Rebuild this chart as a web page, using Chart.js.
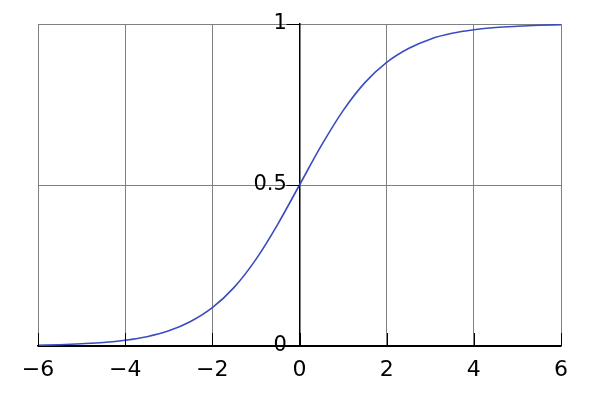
<!DOCTYPE html>
<html lang="en">
<head>
  <meta charset="UTF-8" />
  <title>Logistic curve</title>
  <script src="https://cdn.jsdelivr.net/npm/chart.js"></script>
  <style>
    html, body { margin: 0; padding: 0; background: white; }
    #wrap { width: 600px; height: 400px; }
  </style>
</head>
<body>
  <div id="wrap"><canvas id="sigmoid" width="600" height="400"></canvas></div>

  <script>
    // values, every 0.5 on x
    const xValues = [-6, -5.5, -5, -4.5, -4, -3.5, -3, -2.5, -2, -1.5, -1, -0.5, 0,
                     0.5, 1, 1.5, 2, 2.5, 3, 3.5, 4, 4.5, 5, 5.5, 6];
    const yValues = [0.002, 0.004, 0.007, 0.011, 0.018, 0.029, 0.047, 0.076, 0.119, 0.182, 0.269, 0.378, 0.5,
                     0.622, 0.731, 0.818, 0.881, 0.924, 0.953, 0.971, 0.982, 0.989, 0.993, 0.996, 0.998];
    const xTicks = [-6, -4, -2, 0, 2, 4, 6];
    const yTicks = [0, 0.5, 1];

    const gridGray = '#808080';

    function minusLabel(v) {
      return v < 0 ? '\u2212' + Math.abs(v) : String(v);
    }

    // short black tick marks: up from the x axis, left from the y axis
    const innerTicks = {
      id: 'innerTicks',
      afterDraw(chart) {
        const ctx = chart.ctx;
        const x = chart.scales.x;
        const y = chart.scales.y;
        const bottom = chart.chartArea.bottom;
        const x0 = x.getPixelForValue(0);
        ctx.save();
        ctx.strokeStyle = '#000';
        ctx.lineWidth = 1;
        xTicks.forEach(v => {
          const px = Math.round(x.getPixelForValue(v)) + 0.5;
          ctx.beginPath();
          ctx.moveTo(px, bottom);
          ctx.lineTo(px, bottom - 13);
          ctx.stroke();
        });
        yTicks.forEach(v => {
          const py = Math.round(y.getPixelForValue(v)) + 0.5;
          ctx.beginPath();
          ctx.moveTo(x0, py);
          ctx.lineTo(x0 - 13, py);
          ctx.stroke();
        });
        ctx.restore();
      }
    };

    new Chart(document.getElementById('sigmoid'), {
      type: 'line',
      data: {
        datasets: [{
          data: xValues.map((x, i) => ({ x: x, y: yValues[i] })),
          borderColor: '#3b4cc0',
          borderWidth: 1.6,
          pointRadius: 0,
          fill: false,
          cubicInterpolationMode: 'monotone'
        }]
      },
      options: {
        responsive: false,
        animation: false,
        layout: { padding: { left: 38, right: 39, top: 24, bottom: 0 } },
        plugins: { legend: { display: false }, tooltip: { enabled: false } },
        scales: {
          x: {
            type: 'linear',
            min: -6, max: 6,
            afterBuildTicks: s => { s.ticks = xTicks.map(v => ({ value: v })); },
            afterFit: s => { s.height = 54; },
            grid: {
              color: c => (c.tick && c.tick.value === 0) ? '#000' : gridGray,
              lineWidth: 1,
              drawTicks: false
            },
            border: { color: '#000', width: 1.5 },
            ticks: {
              padding: 11,
              color: '#000',
              font: { family: 'DejaVu Sans', size: 22 },
              callback: v => minusLabel(v)
            }
          },
          y: {
            type: 'linear',
            position: { x: 0 },
            min: 0, max: 1,
            afterBuildTicks: s => { s.ticks = yTicks.map(v => ({ value: v })); },
            grid: {
              color: c => (c.tick && c.tick.value === 0) ? '#000' : gridGray,
              lineWidth: 1,
              drawTicks: false
            },
            border: { color: '#000', width: 1.5 },
            ticks: {
              color: '#000',
              font: { family: 'DejaVu Sans', size: 21 },
              // centred axis ignores padding, so keep the gap with a trailing space
              callback: v => String(v) + '\u2002\u200A'
            }
          }
        }
      },
      plugins: [innerTicks]
    });
  </script>
</body>
</html>
